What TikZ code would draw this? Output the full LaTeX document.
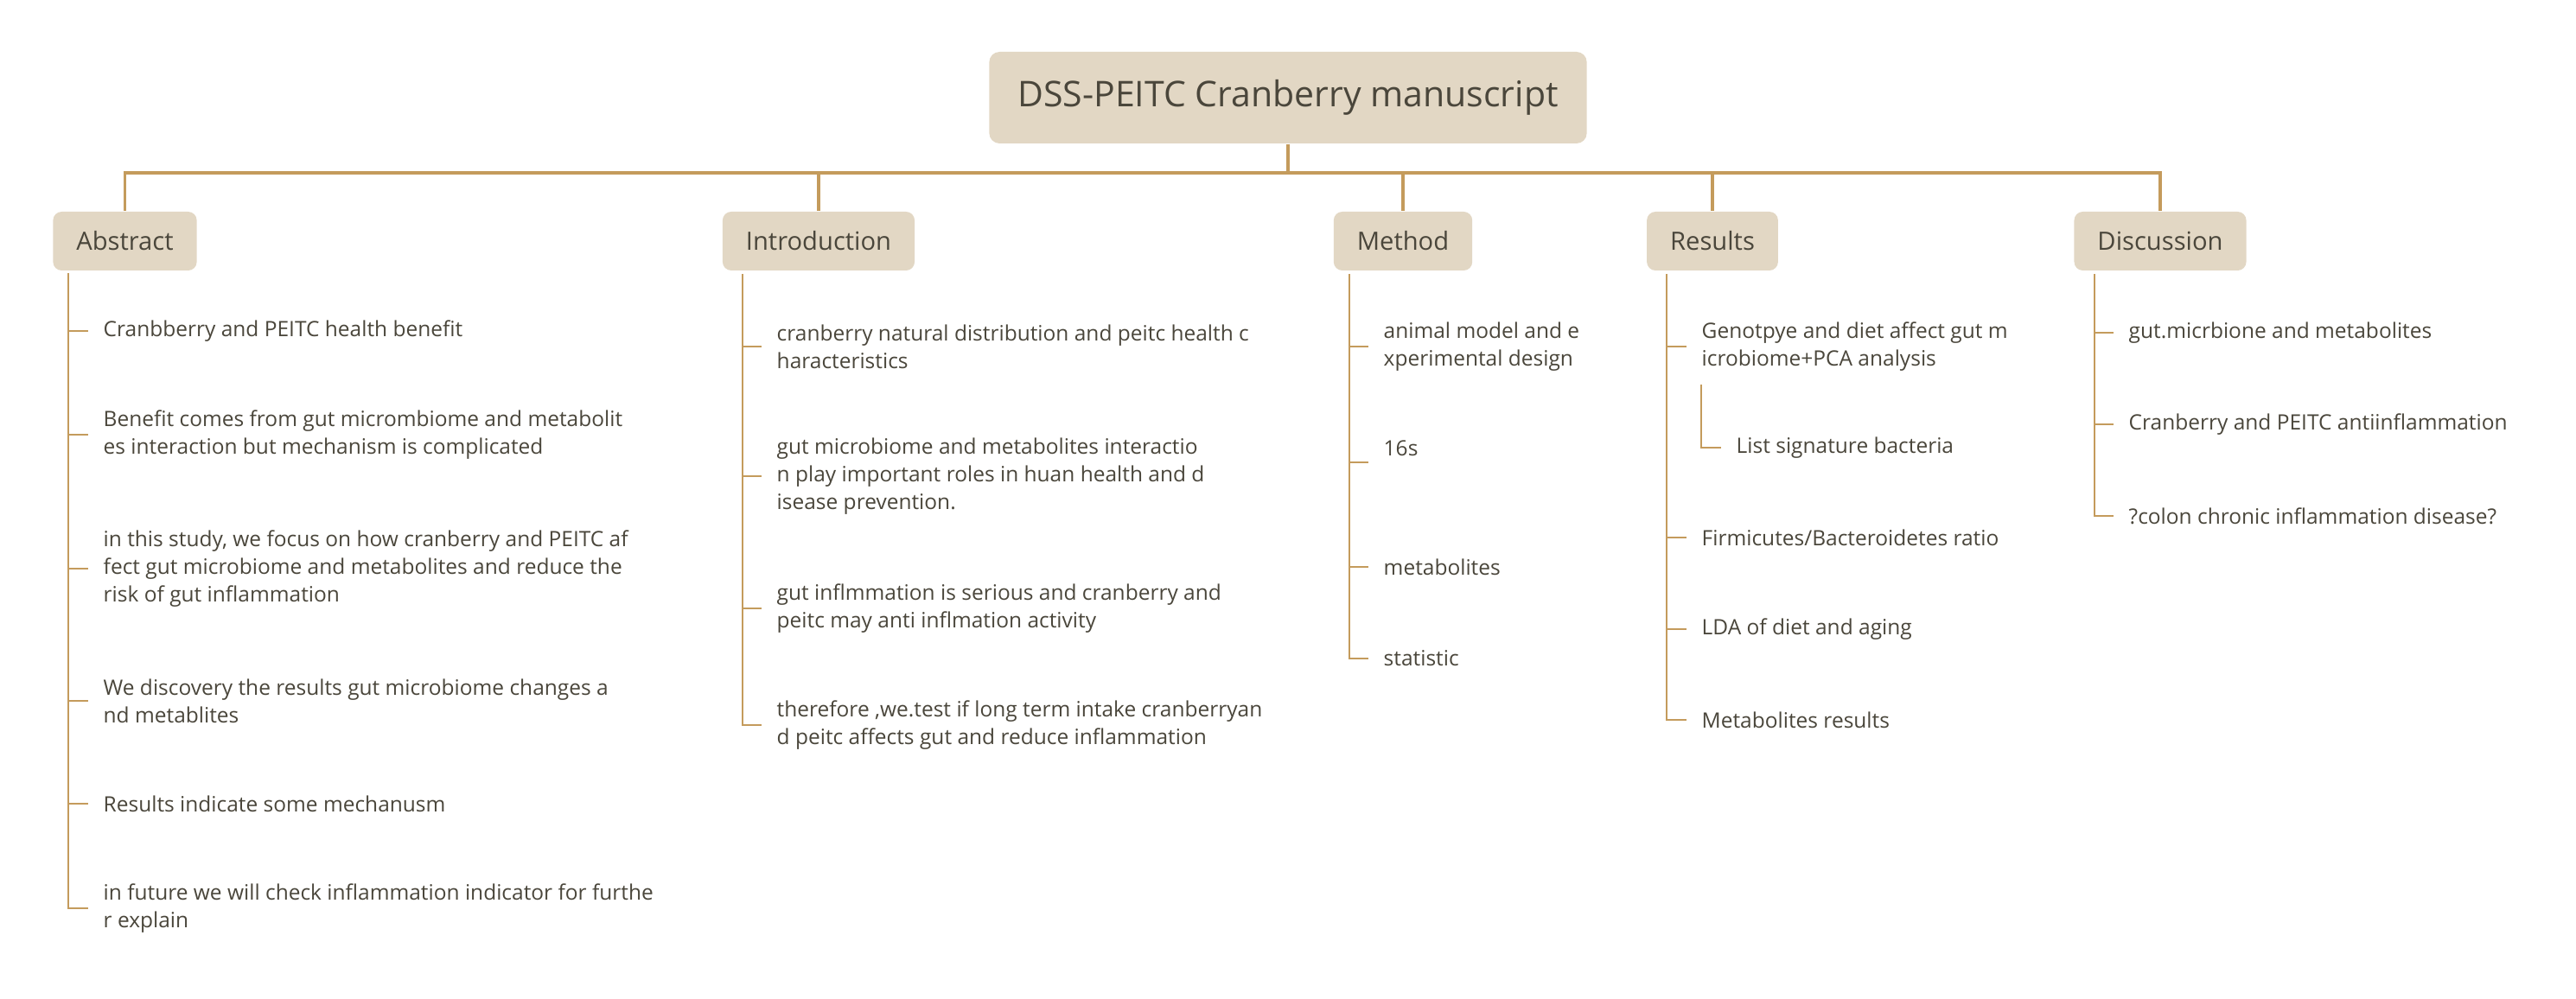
\documentclass[tikz,border=0pt]{standalone}
\usepackage{fontspec}
\setmainfont{Open Sans}
\definecolor{linegold}{HTML}{C49B5C}
\definecolor{boxbeige}{HTML}{E2D7C4}
\definecolor{inkgray}{HTML}{4A463B}

\begin{document}
\begin{tikzpicture}
    % Style Definitions
    \tikzstyle{main} = [rectangle, rounded corners=0.12cm, fill=boxbeige, text=inkgray, inner xsep=0.33cm, minimum height=1.06cm, font=\fontsize{11.67pt}{14pt}\selectfont]
    \tikzstyle{part} = [rectangle, rounded corners=0.1cm, fill=boxbeige, text=inkgray, inner xsep=0.27cm, minimum height=0.68cm, font=\fontsize{8.3pt}{10pt}\selectfont]
    \tikzstyle{leaf} = [anchor=west, align=left, text=inkgray, inner xsep=0.17cm, inner ysep=0pt, font=\fontsize{6.97pt}{9.1pt}\selectfont]
    \tikzstyle{trunk} = [draw=linegold, line width=0.95pt]
    \tikzstyle{twig} = [draw=linegold, line width=0.6pt]

    \useasboundingbox (0,0) rectangle (29.8,-11.56);

    % Nodes
    \node (title) [main] at (14.90,-1.13) {DSS-PEITC Cranberry manuscript};
    \node (abstract) [part] at (1.445,-2.79) {Abstract};
    \node (intro) [part] at (9.47,-2.79) {Introduction};
    \node (method) [part] at (16.23,-2.79) {Method};
    \node (results) [part] at (19.81,-2.79) {Results};
    \node (discuss) [part] at (24.99,-2.79) {Discussion};

    % Abstract
    \node (abs1) [leaf] at (1.02,-3.83) {Cranbberry and PEITC health benefit};
    \node (abs2) [leaf] at (1.02,-5.03) {Benefit comes from gut micrombiome and metabolit\\es interaction but mechanism is complicated};
    \node (abs3) [leaf] at (1.02,-6.58) {in this study, we focus on how cranberry and PEITC af\\fect gut microbiome and metabolites and reduce the\\risk of gut inflammation};
    \node (abs4) [leaf] at (1.02,-8.11) {We discovery the results gut microbiome changes a\\nd metablites};
    \node (abs5) [leaf] at (1.02,-9.30) {Results indicate some mechanusm};
    \node (abs6) [leaf] at (1.02,-10.51) {in future we will check inflammation indicator for furthe\\r explain};

    % Introduction
    \node (intro1) [leaf] at (8.81,-4.01) {cranberry natural distribution and peitc health c\\haracteristics};
    \node (intro2) [leaf] at (8.81,-5.51) {gut microbiome and metabolites interactio\\n play important roles in huan health and d\\isease prevention.};
    \node (intro3) [leaf] at (8.81,-7.04) {gut inflmmation is serious and cranberry and\\peitc may anti inflmation activity};
    \node (intro4) [leaf] at (8.81,-8.39) {therefore ,we.test if long term intake cranberryan\\d peitc affects gut and reduce inflammation};

    % Method
    \node (meth1) [leaf] at (15.83,-4.01) {animal model and e\\xperimental design};
    \node (meth2) [leaf] at (15.83,-5.35) {16s\\ \mbox{}};
    \node (meth3) [leaf] at (15.83,-6.56) {metabolites};
    \node (meth4) [leaf] at (15.83,-7.62) {statistic};

    % Results
    \node (res1) [leaf] at (19.51,-4.01) {Genotpye and diet affect gut m\\icrobiome+PCA analysis};
    \node (res1a) [leaf] at (19.91,-5.18) {List signature bacteria};
    \node (res2) [leaf] at (19.51,-6.22) {Firmicutes/Bacteroidetes ratio};
    \node (res3) [leaf] at (19.51,-7.28) {LDA of diet and aging};
    \node (res4) [leaf] at (19.51,-8.33) {Metabolites results};

    % Discussion
    \node (disc1) [leaf] at (24.45,-3.85) {gut.micrbione and metabolites};
    \node (disc2) [leaf] at (24.45,-4.91) {Cranberry and PEITC antiinflammation};
    \node (disc3) [leaf] at (24.45,-5.97) {?colon chronic inflammation disease?};

    % Branch points
    \coordinate (bar) at (14.90,-2.00);
    \coordinate (absTop) at (0.79,-3.16);
    \coordinate (introTop) at (8.59,-3.17);
    \coordinate (methTop) at (15.61,-3.17);
    \coordinate (resTop) at (19.28,-3.17);
    \coordinate (res1Top) at (19.68,-4.45);
    \coordinate (discTop) at (24.23,-3.17);

    % Arrows
    \draw[trunk] (title.south) -- (bar);
    \foreach \p in {abstract,intro,method,results,discuss}
        \draw[trunk] (bar) -| (\p.north);

    \draw[twig] (absTop) |- (abs6.west);
    \foreach \c in {abs1,abs2,abs3,abs4,abs5}
        \draw[twig] (absTop |- \c.west) -- (\c.west);

    \draw[twig] (introTop) |- (intro4.west);
    \foreach \c in {intro1,intro2,intro3}
        \draw[twig] (introTop |- \c.west) -- (\c.west);

    \draw[twig] (methTop) |- (meth4.west);
    \foreach \c in {meth1,meth2,meth3}
        \draw[twig] (methTop |- \c.west) -- (\c.west);

    \draw[twig] (resTop) |- (res4.west);
    \foreach \c in {res1,res2,res3}
        \draw[twig] (resTop |- \c.west) -- (\c.west);
    \draw[twig] (res1Top) |- (res1a.west);

    \draw[twig] (discTop) |- (disc3.west);
    \foreach \c in {disc1,disc2}
        \draw[twig] (discTop |- \c.west) -- (\c.west);

\end{tikzpicture}
\end{document}
